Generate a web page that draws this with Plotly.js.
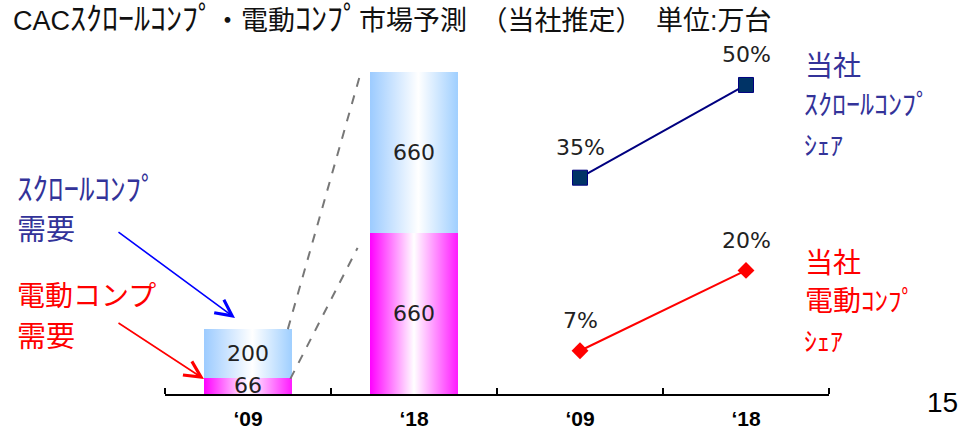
<!DOCTYPE html>
<html><head><meta charset="utf-8">
<script src="https://cdn.plot.ly/plotly-3.0.1.min.js"></script>
<style>html,body{margin:0;padding:0;background:#fff}#chart{width:961px;height:430px}</style>
</head><body><div id="chart"></div>
<script>
// ---- data ----
const years = ['‘09', '‘18'];
const electricDemand = [66, 660];   // 電動コンプ需要 (万台)
const scrollDemand = [200, 660];    // スクロールコンプ需要 (万台)
const scrollShare = [35, 50];       // 当社スクロールコンプシェア (%)
const electricShare = [7, 20];      // 当社電動コンプシェア (%)

// ---- layout constants ----
const W = 961, H = 430;
const M = {l: 165, r: 132, t: 72, b: 36};
const PW = W - M.l - M.r, PH = H - M.t - M.b;
const HW = 0.265;           // half bar width (category units)
const SHARE_OFFSET = 2;     // x offset of the share panel
const CJK = '"Noto Sans CJK JP", sans-serif';
const NUM = '"DejaVu Sans", sans-serif';
const BLUE_TXT = '#333399', RED = '#FF0000';

const blueScale = [[0, '#9CCBFF'], [0.55, '#FFFFFF'], [1, '#9FCFFF']];
const magScale = [[0, '#FF00FF'], [0.5, '#FFFFFF'], [1, '#FF1AFF']];

function barPoly(xc, base, val, scale) {
  return {
    type: 'scatter', mode: 'lines', line: {width: 0},
    x: [xc - HW, xc + HW, xc + HW, xc - HW],
    y: [base, base, base + val, base + val],
    fill: 'toself',
    fillgradient: {type: 'horizontal', colorscale: scale},
    hoverinfo: 'skip', showlegend: false, xaxis: 'x', yaxis: 'y'
  };
}

const traces = [];
years.forEach((y, i) => {
  traces.push(barPoly(i, 0, electricDemand[i], magScale));
  traces.push(barPoly(i, electricDemand[i], scrollDemand[i], blueScale));
});
const shareX = years.map((y, i) => i + SHARE_OFFSET);
traces.push({
  type: 'scatter', mode: 'lines+markers', x: shareX, y: scrollShare, yaxis: 'y2',
  line: {color: '#000080', width: 2},
  marker: {symbol: 'square', size: 15, color: '#003366', line: {color: '#000080', width: 1}},
  showlegend: false, hoverinfo: 'skip'
});
traces.push({
  type: 'scatter', mode: 'lines+markers', x: shareX, y: electricShare, yaxis: 'y2',
  line: {color: RED, width: 2},
  marker: {symbol: 'diamond', size: 13, color: RED},
  showlegend: false, hoverinfo: 'skip'
});

// pixel -> paper helpers for free-standing labels
const px = v => (v - M.l) / PW;
const py = v => (H - M.b - v) / PH;
function label(text, x, y, size, color, extra) {
  return Object.assign({
    text, xref: 'paper', yref: 'paper', x: px(x), y: py(y),
    xanchor: 'left', yanchor: 'middle', showarrow: false,
    font: {family: CJK, size, color}
  }, extra || {});
}
const kana = (t, s) => `<span style="font-size:${s}px">${t}</span>`;

const numFont = {family: NUM, size: 22, color: '#222'};
const annotations = [];
// values inside bars and share labels
years.forEach((y, i) => {
  annotations.push({x: i, y: electricDemand[i] / 2, xref: 'x', yref: 'y', text: String(electricDemand[i]),
    showarrow: false, font: numFont});
  annotations.push({x: i, y: electricDemand[i] + scrollDemand[i] / 2, xref: 'x', yref: 'y', text: String(scrollDemand[i]),
    showarrow: false, font: numFont});
  annotations.push({x: i + SHARE_OFFSET, y: scrollShare[i], xref: 'x', yref: 'y2', text: scrollShare[i] + '%',
    showarrow: false, yshift: 30, font: numFont});
  annotations.push({x: i + SHARE_OFFSET, y: electricShare[i], xref: 'x', yref: 'y2', text: electricShare[i] + '%',
    showarrow: false, yshift: 30, font: numFont});
});

// left labels
annotations.push(label(kana('ｽｸﾛｰﾙｺﾝﾌﾟ', 31), 15, 186, 28, BLUE_TXT));
annotations.push(label('需要', 15, 227, 29, BLUE_TXT));
annotations.push(label('電動コンプ', 15, 294, 28, RED));
annotations.push(label('需要', 15, 334, 29, RED));
// right labels
annotations.push(label('当社', 803, 64, 28, BLUE_TXT));
annotations.push(label('ｽｸﾛｰﾙｺﾝﾌﾟ', 802, 103, 28, BLUE_TXT));
annotations.push(label('ｼｪｱ', 802, 143, 26, BLUE_TXT));
annotations.push(label('当社', 803, 261, 28, RED));
annotations.push(label('電動' + kana('ｺﾝﾌﾟ', 27), 803, 299, 28, RED));
annotations.push(label('ｼｪｱ', 802, 339, 26, RED));
// page number
annotations.push(label('15', 925, 402, 28, '#000', {font: {family: '"Liberation Sans", sans-serif', size: 28, color: '#000'}}));
// arrows
annotations.push({xref: 'paper', yref: 'paper', x: px(235), y: py(318), ax: -118, ay: -87,
  text: '', showarrow: true, arrowhead: 5, arrowsize: 2, arrowwidth: 1.6, arrowcolor: '#0000FF'});
annotations.push({xref: 'paper', yref: 'paper', x: px(204), y: py(379), ax: -87, ay: -57,
  text: '', showarrow: true, arrowhead: 5, arrowsize: 2, arrowwidth: 1.6, arrowcolor: RED});

const shapes = [
  {type: 'line', xref: 'x', yref: 'y', x0: 0.24, y0: 266, x1: 0.67, y1: 1295,
   line: {color: '#777777', width: 2, dash: 'dash'}},
  {type: 'line', xref: 'x', yref: 'y', x0: 0.255, y0: 62, x1: 0.66, y1: 599,
   line: {color: '#777777', width: 2, dash: 'dash'}}
];

const layout = {
  width: W, height: H, margin: M,
  paper_bgcolor: '#fff', plot_bgcolor: 'rgba(0,0,0,0)',
  showlegend: false,
  title: {
    text: 'CAC' + kana('ｽｸﾛｰﾙｺﾝﾌﾟ', 32) + '・電動' + kana('ｺﾝﾌﾟ', 32) + '市場予測　（当社推定）　単位:万台',
    xref: 'container', yref: 'container', x: 13 / W, xanchor: 'left', y: 1 - 21 / H, yanchor: 'middle',
    font: {family: '"Liberation Sans", "Noto Sans CJK JP", sans-serif', size: 27, color: '#111'}
  },
  xaxis: {
    range: [-0.5, 3.5], fixedrange: true, showgrid: false, zeroline: false,
    showline: true, linecolor: '#000', linewidth: 1.5,
    tickmode: 'array', tickvals: [0, 1, 2, 3], ticktext: years.concat(years),
    ticks: '', ticklabelstandoff: 5, automargin: false,
    tickfont: {family: '"Liberation Sans", sans-serif', size: 21, color: '#000', weight: 'bold'},
    minor: {tickmode: 'array', tickvals: [-0.5, 0.5, 1.5, 2.5, 3.5], ticks: 'inside', ticklen: 6,
            tickwidth: 1.5, tickcolor: '#000', showgrid: false}
  },
  yaxis: {range: [0, 1320], visible: false, fixedrange: true},
  yaxis2: {range: [0, 52.1], overlaying: 'y', visible: false, fixedrange: true},
  annotations, shapes
};

Plotly.newPlot('chart', traces, layout, {displayModeBar: false, staticPlot: true});
</script>
</body></html>
